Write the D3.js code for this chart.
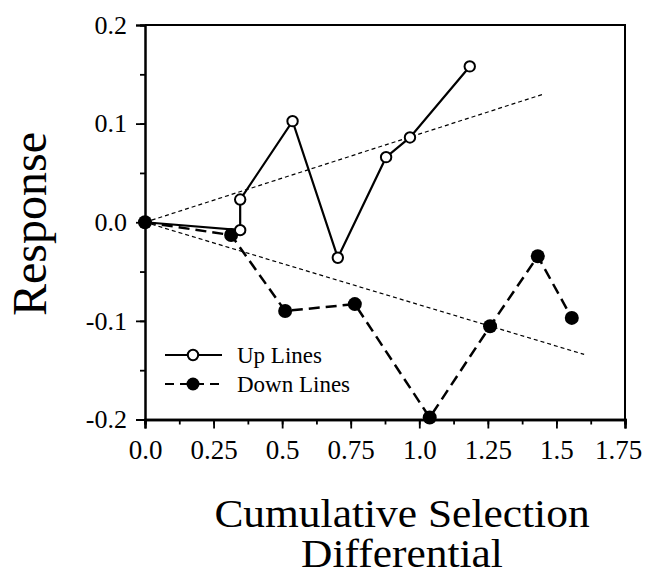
<!DOCTYPE html>
<html lang="en">
<head>
  <meta charset="UTF-8">
  <title>Response vs Cumulative Selection Differential</title>
  <script src="https://d3js.org/d3.v7.min.js"></script>
  <style>
    body {
      margin: 0;
      background: #fff;
    }
    svg {
      display: block;
    }
    svg text {
      font-family: 'Liberation Serif', 'Times New Roman', serif;
    }
  </style>
</head>
<body>
  <svg width="647" height="575"></svg>

  <script>
    // data
    const upX = [0, 0.347, 0.347, 0.538, 0.703, 0.879, 0.966, 1.184];
    const upY = [0, -0.008, 0.023, 0.1025, -0.036, 0.066, 0.086, 0.158];
    const downX = [0, 0.314, 0.511, 0.765, 1.038, 1.258, 1.432, 1.556];
    const downY = [0, -0.013, -0.090, -0.083, -0.198, -0.1055, -0.0345, -0.097];
    const upFitX = [0, 1.449];
    const upFitY = [0, 0.1296];
    const downFitX = [0, 1.601];
    const downFitY = [0, -0.134];
    const xTicks = [0, 0.25, 0.5, 0.75, 1.0, 1.25, 1.5, 1.75];
    const xTickLabels = ["0.0", "0.25", "0.5", "0.75", "1.0", "1.25", "1.5", "1.75"];
    const yTicks = [-0.2, -0.1, 0, 0.1, 0.2];
    const yTickLabels = ["-0.2", "-0.1", "0.0", "0.1", "0.2"];
    const legendLabels = ["Up Lines", "Down Lines"];

    const serif = "'Liberation Serif', 'Times New Roman', serif";
    const svg = d3.select("svg");
    const mLeft = 145, mRight = 625, mTop = 25, mBottom = 419.5;

    const x = d3.scaleLinear().domain([0, 1.75]).range([mLeft, mRight]);
    const y = d3.scaleLinear().domain([-0.2, 0.2]).range([mBottom, mTop]);

    const zip = (a, b) => a.map((v, i) => [v, b[i]]);
    const up = zip(upX, upY);
    const down = zip(downX, downY);
    const line = d3.line().x(d => x(d[0])).y(d => y(d[1]));

    // frame (top and right, no ticks)
    svg.append("path")
      .attr("d", `M${mLeft},${mTop}H${mRight}V${mBottom}`)
      .attr("fill", "none")
      .attr("stroke", "#000")
      .attr("stroke-width", 2);

    // y axis: majors every 0.1, minors every 0.05
    const yAxis = svg.append("g").attr("transform", `translate(${mLeft},0)`);
    yAxis.call(d3.axisLeft(y).tickValues(d3.range(-0.2, 0.2001, 0.05)).tickSize(5).tickFormat(""));
    const yMajor = yAxis.append("g").call(d3.axisLeft(y).tickValues(yTicks).tickSize(9).tickPadding(9)
      .tickFormat((d, i) => yTickLabels[i]));
    yAxis.selectAll(".domain").attr("stroke-width", 2);
    yAxis.selectAll(".tick line").attr("stroke-width", 1.8);
    yMajor.selectAll("text").attr("font-size", 26).attr("font-family", serif).attr("fill", "#000");

    // x axis: majors every 0.25, minors every 0.125
    const xAxis = svg.append("g").attr("transform", `translate(0,${mBottom})`);
    xAxis.call(d3.axisBottom(x).tickValues(d3.range(0, 1.7501, 0.125)).tickSize(5).tickFormat(""));
    const xMajor = xAxis.append("g").call(d3.axisBottom(x).tickValues(xTicks).tickSize(9).tickPadding(11)
      .tickFormat((d, i) => xTickLabels[i]));
    xAxis.selectAll(".domain").attr("stroke-width", 2.5);
    xAxis.selectAll(".tick line").attr("stroke-width", 1.8);
    // last label sits a little left of its tick so it stays inside the page
    xMajor.selectAll("text").attr("font-size", 27).attr("font-family", serif).attr("fill", "#000")
      .attr("dx", d => d === 1.75 ? -7 : 0);

    // fitted trend lines
    [zip(upFitX, upFitY), zip(downFitX, downFitY)].forEach(f => {
      svg.append("path")
        .attr("d", line(f))
        .attr("fill", "none")
        .attr("stroke", "#000")
        .attr("stroke-width", 1.2)
        .attr("stroke-dasharray", "4,3");
    });

    // series lines
    svg.append("path").attr("d", line(up))
      .attr("fill", "none").attr("stroke", "#000").attr("stroke-width", 2.2);
    svg.append("path").attr("d", line(down))
      .attr("fill", "none").attr("stroke", "#000").attr("stroke-width", 2.5)
      .attr("stroke-dasharray", "11,6");

    // markers: filled first, then open ones (origin stays filled)
    svg.append("g").selectAll("circle").data(down).join("circle")
      .attr("cx", d => x(d[0])).attr("cy", d => y(d[1]))
      .attr("r", 7).attr("fill", "#000");
    svg.append("g").selectAll("circle").data(up.slice(1)).join("circle")
      .attr("cx", d => x(d[0])).attr("cy", d => y(d[1]))
      .attr("r", 5.2).attr("fill", "#fff").attr("stroke", "#000").attr("stroke-width", 2);

    // legend
    const legend = svg.append("g").attr("transform", "translate(165,355)");
    legendLabels.forEach((lab, i) => {
      const g = legend.append("g").attr("transform", `translate(0,${i * 29})`);
      g.append("line").attr("x1", 0).attr("x2", 57).attr("stroke", "#000")
        .attr("stroke-width", i ? 2.2 : 2)
        .attr("stroke-dasharray", i ? "9,6" : null);
      g.append("circle").attr("cx", 28).attr("r", i ? 6.5 : 5.2)
        .attr("fill", i ? "#000" : "#fff").attr("stroke", "#000").attr("stroke-width", i ? 0 : 2);
      g.append("text").attr("x", 72).attr("y", 8).attr("font-size", 23).text(lab);
    });

    // axis titles
    svg.append("text")
      .attr("transform", "translate(46,224) rotate(-90)")
      .attr("text-anchor", "middle")
      .attr("font-size", 48)
      .text("Response");
    svg.append("text")
      .attr("transform", "translate(402,527) scale(1.06,1)")
      .attr("text-anchor", "middle")
      .attr("font-size", 41)
      .text("Cumulative Selection");
    svg.append("text")
      .attr("transform", "translate(402,567) scale(1.06,1)")
      .attr("text-anchor", "middle")
      .attr("font-size", 41)
      .text("Differential");
  </script>
</body>
</html>
